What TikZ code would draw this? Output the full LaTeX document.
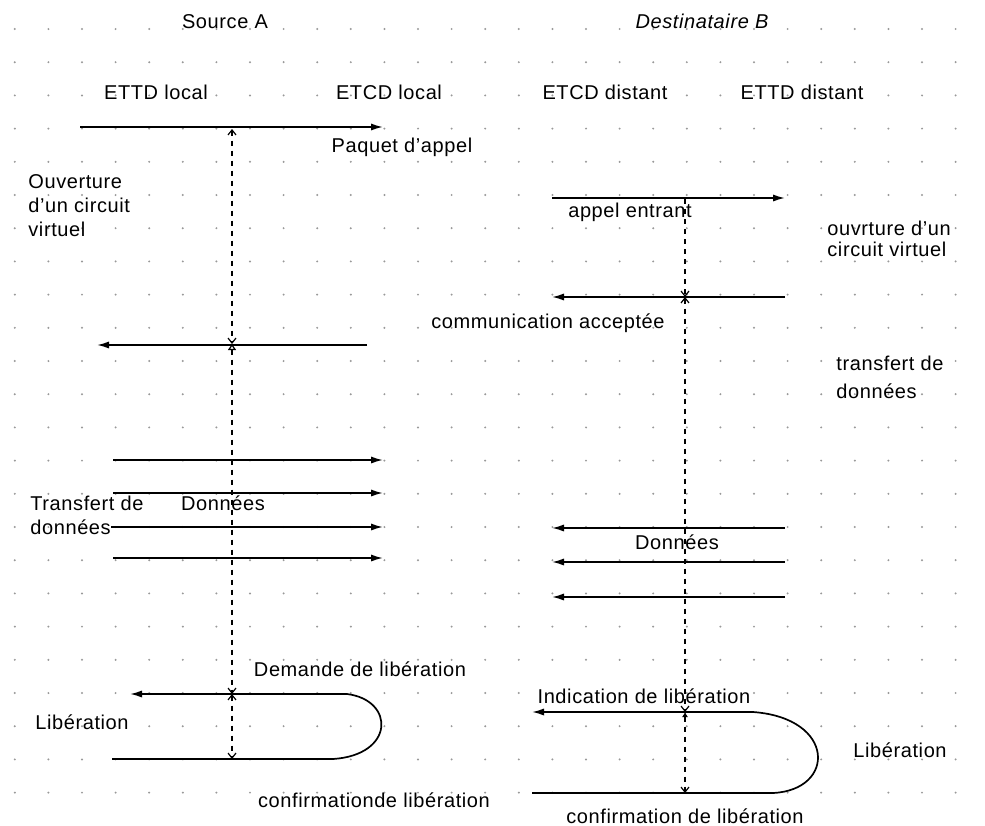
\documentclass[tikz,border=0pt]{standalone}
\usepackage{fontspec}
\setmainfont[LetterSpace=3]{Liberation Sans}
\usetikzlibrary{arrows.meta}
\begin{document}
\begin{tikzpicture}[x=0.5pt,y=-0.5pt,
  lbl/.style={font=\fontsize{10}{12}\selectfont, inner sep=0pt},
  lbli/.style={font=\fontsize{10}{12}\selectfont\itshape, inner sep=0pt},
  msg/.style={line width=0.85pt, -{Latex[length=6pt,width=3.6pt]}},
  life/.style={line width=0.7pt, dash pattern=on 2.5pt off 2.5pt},
  barb/.tip={Straight Barb[length=2.5pt,width=4pt,line width=0.6pt]},
  tri/.tip={Triangle[open,length=3pt,width=4pt,line width=0.6pt]}]
\useasboundingbox (0,0) rectangle (985,825);
\fill[white] (0,0) rectangle (985,825);
% dot grid
\foreach \j in {-2,...,26}
  \foreach \k in {0,...,23}
    \fill[gray!80] (82+33.6*\j, 29+33.2*\k) circle[radius=0.55pt];

% headers
\node[lbl] (srcA) at (225,22) {Source A};
\node[lbli] (dstB) at (702,21) {Destinataire B};
\node[lbl] (ettdL) at (156,92) {ETTD local};
\node[lbl] (etcdL) at (389,92) {ETCD local};
\node[lbl] (etcdD) at (605,92) {ETCD distant};
\node[lbl] (ettdD) at (802,92) {ETTD distant};

% ---- left side: call set-up
\coordinate (pa1) at (80,127);
\coordinate (pa2) at (383,127);
\draw[msg] (pa1) -- (pa2);
\node[lbl] (paq) at (402,147) {Paquet d'appel};

\node[lbl, anchor=west, align=left] (ouv) at (28,206) {Ouverture\\d'un circuit\\virtuel};

\coordinate (cc1) at (367,345);
\coordinate (cc2) at (97,345);
\draw[msg] (cc1) -- (cc2);

% ---- right side: call set-up
\coordinate (ae1) at (552,198);
\coordinate (ae2) at (785,198);
\draw[msg] (ae1) -- (ae2);
\node[lbl] (aent) at (630,212) {appel entrant};

\coordinate (ca1) at (785,297);
\coordinate (ca2) at (552,297);
\draw[msg] (ca1) -- (ca2);
\node[lbl] (cacc) at (548,323) {communication acceptée};

\node[lbl, anchor=west, align=left, font=\fontsize{10}{10.5}\selectfont] (ouvr) at (827,239) {ouvrture d'un\\circuit virtuel};
\node[lbl, anchor=west, align=left, font=\fontsize{10}{14}\selectfont] (trd) at (836,377) {transfert de\\données};

% ---- left data
\coordinate (d1a) at (113,460); \coordinate (d1b) at (383,460);
\coordinate (d2a) at (113,493); \coordinate (d2b) at (383,493);
\coordinate (d3a) at (111,527); \coordinate (d3b) at (383,527);
\coordinate (d4a) at (113,558); \coordinate (d4b) at (383,558);
\draw[msg] (d1a) -- (d1b);
\draw[msg] (d2a) -- (d2b);
\draw[msg] (d3a) -- (d3b);
\draw[msg] (d4a) -- (d4b);
\node[lbl, anchor=west, align=left] (trL) at (30,515) {Transfert de\\données};
\node[lbl] (donL) at (223,503) {Données};

% ---- right data
\coordinate (e1a) at (785,528); \coordinate (e1b) at (552,528);
\coordinate (e2a) at (785,562); \coordinate (e2b) at (552,562);
\coordinate (e3a) at (785,597); \coordinate (e3b) at (552,597);
\draw[msg] (e1a) -- (e1b);
\draw[msg] (e2a) -- (e2b);
\draw[msg] (e3a) -- (e3b);
\node[lbl] (donR) at (677,542) {Données};

% ---- left release
\coordinate (rl1) at (112,759);
\coordinate (rl2) at (333,759);
\coordinate (rl3) at (347,694);
\coordinate (rl4) at (130,694);
\draw[msg] (rl1) -- (rl2) .. controls (395,755) and (395,700) .. (rl3) -- (rl4);
\node[lbl] (dem) at (360,669) {Demande de libération};
\node[lbl] (libL) at (82,722) {Libération};
\node[lbl] (confL) at (374,800) {confirmationde libération};

% ---- right release
\coordinate (rr1) at (532,793);
\coordinate (rr2) at (773,793);
\coordinate (rr3) at (753,712);
\coordinate (rr4) at (532,712);
\draw[msg] (rr1) -- (rr2) .. controls (836,790) and (836,718) .. (rr3) -- (rr4);
\node[lbl] (ind) at (644,696) {Indication de libération};
\node[lbl] (libR) at (900,750) {Libération};
\node[lbl] (confR) at (685,816) {confirmation de libération};

% ---- lifelines (time lines)
\coordinate (l1) at (232,129);
\coordinate (l2) at (232,344);
\coordinate (l3) at (232,694);
\coordinate (l4) at (232,759);
\draw[life, {barb}-{barb}] (l1) -- (l2);
\draw[life, {tri}-{barb}] (l2) -- (l3);
\draw[life, {barb}-{barb}] (l3) -- (l4);

\coordinate (r1) at (685,199);
\coordinate (r2) at (685,297);
\coordinate (r3) at (685,712);
\coordinate (r4) at (685,793);
\draw[life, -{barb}] (r1) -- (r2);
\draw[life, {barb}-{barb}] (r2) -- (r3);
\draw[life, {Latex[length=2.5pt,width=3pt]}-{barb}] (r3) -- (r4);
\end{tikzpicture}
\end{document}
